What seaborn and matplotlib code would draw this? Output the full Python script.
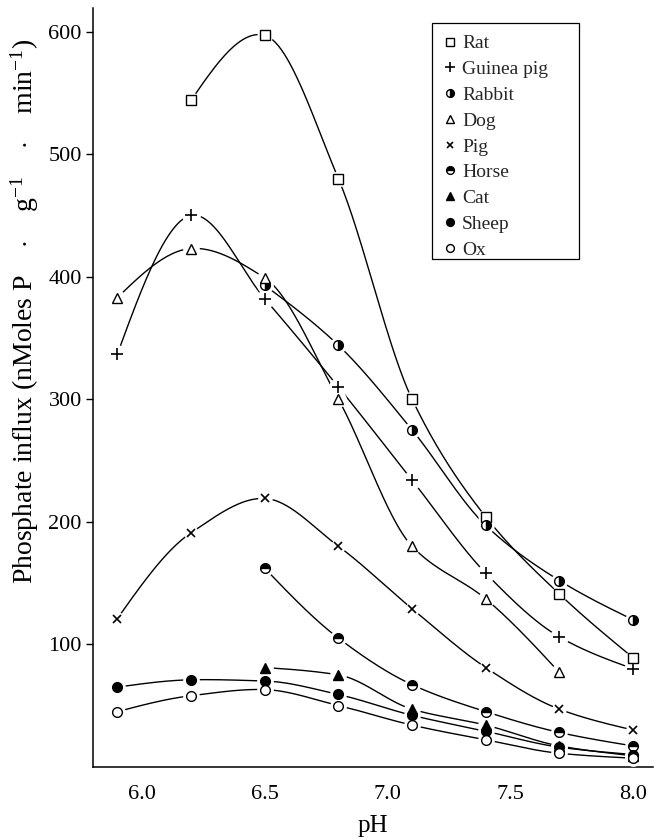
import numpy as np
import matplotlib
matplotlib.use("Agg")
import matplotlib.pyplot as plt
from matplotlib.lines import Line2D
from matplotlib.patches import Rectangle
import seaborn as sns

# pH values at which influx was measured
ph_all = [5.9, 6.2, 6.5, 6.8, 7.1, 7.4, 7.7, 8.0]
ph_from_62 = [6.2, 6.5, 6.8, 7.1, 7.4, 7.7, 8.0]
ph_from_65 = [6.5, 6.8, 7.1, 7.4, 7.7, 8.0]
ph_dog = [5.9, 6.2, 6.5, 6.8, 7.1, 7.4, 7.7]

# Phosphate influx (nMoles P . g-1 . min-1) per species
rat = [544, 597, 480, 300, 204, 141, 89]
guinea_pig = [337, 450, 382, 310, 234, 158, 106, 80]
rabbit = [393, 344, 275, 197, 152, 120]
dog = [383, 423, 399, 300, 180, 137, 77]
pig = [121, 191, 219, 180, 129, 81, 47, 30]
horse = [162, 105, 67, 45, 28, 17]
cat = [81, 75, 47, 34, 17, 9]
sheep = [65, 71, 70, 59, 42, 29, 16, 10]
ox = [45, 58, 63, 50, 34, 22, 11, 7]

species = ["Rat", "Guinea pig", "Rabbit", "Dog", "Pig", "Horse", "Cat", "Sheep", "Ox"]
series = {
    "Rat": (ph_from_62, rat),
    "Guinea pig": (ph_all, guinea_pig),
    "Rabbit": (ph_from_65, rabbit),
    "Dog": (ph_dog, dog),
    "Pig": (ph_all, pig),
    "Horse": (ph_from_65, horse),
    "Cat": (ph_from_65, cat),
    "Sheep": (ph_all, sheep),
    "Ox": (ph_all, ox),
}

# marker styling for each species
mstyle = {
    "Rat": dict(marker="s", mfc="white", ms=6.5),
    "Guinea pig": dict(marker="+", ms=8.5, mew=1.2),
    "Rabbit": dict(marker="o", fillstyle="right", mfc="black", mfcalt="white", ms=7),
    "Dog": dict(marker="^", mfc="white", ms=7),
    "Pig": dict(marker="x", ms=5.5, mew=1.2),
    "Horse": dict(marker="o", fillstyle="top", mfc="black", mfcalt="white", ms=7),
    "Cat": dict(marker="^", mfc="black", ms=7),
    "Sheep": dict(marker="o", mfc="black", ms=7),
    "Ox": dict(marker="o", mfc="white", ms=7),
}


def smooth_curve(x, y, n=300):
    """Shape-preserving cubic Hermite curve through the measured points."""
    x = np.asarray(x, float)
    y = np.asarray(y, float)
    k = len(x)
    h = np.diff(x)
    delta = np.diff(y) / h
    d = np.zeros(k)
    for i in range(1, k - 1):
        if delta[i - 1] * delta[i] <= 0:
            # gentle rounding at a turning point
            d[i] = 0.5 * (y[i + 1] - y[i - 1]) / (x[i + 1] - x[i - 1])
        else:
            w1 = 2 * h[i] + h[i - 1]
            w2 = h[i] + 2 * h[i - 1]
            d[i] = (w1 + w2) / (w1 / delta[i - 1] + w2 / delta[i])
    d[0] = 1.5 * delta[0] - 0.5 * d[1]
    if np.sign(d[0]) != np.sign(delta[0]):
        d[0] = 0.0
    d[-1] = 1.5 * delta[-1] - 0.5 * d[-2]
    if np.sign(d[-1]) != np.sign(delta[-1]):
        d[-1] = 0.0
    xs = np.linspace(x[0], x[-1], n)
    idx = np.clip(np.searchsorted(x, xs, side="right") - 1, 0, k - 2)
    t = (xs - x[idx]) / h[idx]
    h00 = 2 * t ** 3 - 3 * t ** 2 + 1
    h10 = t ** 3 - 2 * t ** 2 + t
    h01 = -2 * t ** 3 + 3 * t ** 2
    h11 = t ** 3 - t ** 2
    ys = (h00 * y[idx] + h10 * h[idx] * d[idx]
          + h01 * y[idx + 1] + h11 * h[idx] * d[idx + 1])
    return xs, ys


sns.set_theme(style="ticks")
plt.rcParams["font.family"] = ["Liberation Serif", "DejaVu Serif"]
plt.rcParams["mathtext.fontset"] = "custom"
plt.rcParams["mathtext.rm"] = "Liberation Serif"
plt.rcParams["mathtext.it"] = "Liberation Serif:italic"

fig = plt.figure(figsize=(6.54, 8.38), dpi=100)
ax = fig.add_axes([0.142, 0.085, 0.856, 0.905])

for name in species:
    xs, ys = series[name]
    cx, cy = smooth_curve(xs, ys)
    sns.lineplot(x=cx, y=cy, ax=ax, color="black", lw=1.0, sort=False,
                 estimator=None, zorder=2)
    st = mstyle[name]
    # white halo leaves a small gap in the curves around each point
    ax.plot(xs, ys, ls="none", marker="o", ms=st["ms"] + 4, mfc="white",
            mec="white", zorder=3)

for name in species:
    xs, ys = series[name]
    st = dict(mstyle[name])
    mfcalt = st.pop("mfcalt", None)
    kw = dict(ls="none", color="black", mec="black", mew=st.pop("mew", 1.0), zorder=4)
    kw.update(st)
    if mfcalt is not None:
        kw["markerfacecoloralt"] = mfcalt
    ax.plot(xs, ys, **kw)

ax.set_xlim(5.8, 8.08)
ax.set_ylim(0, 619)
ax.set_xticks([6.0, 6.5, 7.0, 7.5, 8.0])
ax.set_xticklabels(["6.0", "6.5", "7.0", "7.5", "8.0"])
ax.set_yticks([100, 200, 300, 400, 500, 600])
ax.set_yticklabels(["100", "200", "300", "400", "500", "600"])
ax.tick_params(axis="x", length=0, pad=13, labelsize=16, colors="black")
ax.tick_params(axis="y", length=5, width=1.0, pad=3, labelsize=16, colors="black")
for s in ["top", "right"]:
    ax.spines[s].set_visible(False)
for s in ["left", "bottom"]:
    ax.spines[s].set_color("black")
    ax.spines[s].set_linewidth(1.1)

ax.set_xlabel("pH", fontsize=18, labelpad=8, color="black")
ax.set_ylabel(r"Phosphate influx (nMoles P $\quad\!\cdot\quad\!$ g$^{-1}$ "
              r"$\quad\!\cdot\quad\!$ min$^{-1}$)",
              fontsize=20, labelpad=5, color="black", y=0.6)

handles = []
for name in species:
    st = dict(mstyle[name])
    mfcalt = st.pop("mfcalt", None)
    kw = dict(ls="none", color="black", mec="black", mew=st.pop("mew", 1.0))
    kw.update(st)
    kw["ms"] = kw["ms"] * 0.8
    if mfcalt is not None:
        kw["markerfacecoloralt"] = mfcalt
    handles.append(Line2D([], [], **kw))

# legend box
ax.add_patch(Rectangle((0.6058, 0.6695), 0.2625, 0.3112, transform=ax.transAxes,
                       facecolor="white", edgecolor="black", lw=0.9, zorder=5))
leg = ax.legend(handles, species, loc="upper left", bbox_to_anchor=(0.6058, 0.978),
                borderaxespad=0, frameon=False, fontsize=14,
                handlelength=0.8, handletextpad=0.25, labelspacing=0.42,
                borderpad=0.5)
leg.set_zorder(6)

fig.savefig("out.png", dpi=100)
